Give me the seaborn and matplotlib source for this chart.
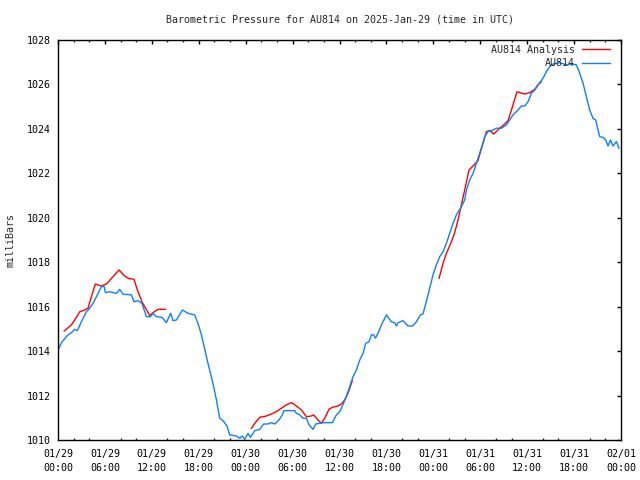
import numpy as np
import pandas as pd
import matplotlib
matplotlib.use("Agg")
import matplotlib.pyplot as plt
import matplotlib.dates as mdates
import seaborn as sns

# hours after 2025-01-29 00:00 UTC, pressure in mb
obs_hours = [0.0, 0.51, 1.28, 1.71, 2.14, 2.48, 2.99, 3.63, 4.05, 4.60, 5.12, 5.55, 5.88,
             6.06, 6.61, 7.47, 7.89, 8.31, 9.39, 9.72, 10.23, 10.74, 11.31, 11.82, 12.15,
             12.58, 13.30, 13.86, 14.41, 14.71, 15.14, 15.91, 16.63, 17.48, 17.90, 18.34,
             18.76, 19.18, 19.82, 20.26, 20.68, 21.10, 21.61, 21.96, 22.82, 23.24, 23.58,
             23.88, 24.30, 24.61, 25.16, 25.80, 26.31, 26.86, 27.29, 27.72, 28.26, 28.70,
             28.87, 30.27, 30.49, 30.91, 31.33, 31.77, 32.10, 32.61, 32.96, 33.89, 35.09,
             35.60, 36.03, 36.45, 36.88, 37.31, 37.73, 38.16, 38.59, 39.01, 39.35, 39.77,
             40.08, 40.37, 40.59, 40.92, 41.36, 42.00, 42.64, 43.06, 43.28, 43.48, 44.12,
             44.76, 45.33, 45.84, 46.35, 46.68, 47.12, 47.54, 47.96, 48.39, 48.82, 49.24,
             49.67, 50.10, 50.52, 50.95, 51.59, 52.01, 52.23, 52.65, 53.08, 53.51, 53.93,
             54.35, 54.57, 54.99, 55.63, 56.07, 56.71, 57.35, 57.77, 58.19, 58.83, 59.27,
             59.69, 60.11, 60.54, 60.97, 61.39, 62.03, 62.46, 62.88, 63.31, 64.16, 65.02,
             65.66, 66.30, 66.72, 67.15, 67.58, 68.00, 68.42, 68.77, 69.06, 69.28, 69.70,
             70.05, 70.34, 70.65, 70.98, 71.42, 71.75]
obs_mb = [1014.05, 1014.42, 1014.73, 1014.83, 1014.98, 1014.92, 1015.32, 1015.77, 1015.93,
          1016.22, 1016.60, 1016.90, 1016.93, 1016.63, 1016.67, 1016.60, 1016.78, 1016.56,
          1016.53, 1016.22, 1016.27, 1016.15, 1015.55, 1015.55, 1015.70, 1015.55, 1015.52,
          1015.28, 1015.70, 1015.37, 1015.40, 1015.85, 1015.70, 1015.63, 1015.25, 1014.73,
          1014.08, 1013.45, 1012.55, 1011.80, 1010.98, 1010.87, 1010.63, 1010.23, 1010.18,
          1010.08, 1010.18, 1010.03, 1010.30, 1010.12, 1010.42, 1010.48, 1010.72, 1010.72,
          1010.78, 1010.72, 1010.90, 1011.13, 1011.32, 1011.32, 1011.20, 1011.13, 1010.98,
          1010.98, 1010.68, 1010.48, 1010.72, 1010.78, 1010.78, 1011.13, 1011.28, 1011.60,
          1011.95, 1012.40, 1012.85, 1013.15, 1013.60, 1013.90, 1014.35, 1014.42, 1014.73,
          1014.73, 1014.58, 1014.80, 1015.18, 1015.63, 1015.32, 1015.28, 1015.13, 1015.28,
          1015.37, 1015.13, 1015.13, 1015.32, 1015.63, 1015.67, 1016.25, 1016.83, 1017.43,
          1017.88, 1018.25, 1018.47, 1018.85, 1019.30, 1019.75, 1020.13, 1020.50, 1020.80,
          1021.25, 1021.70, 1022.00, 1022.45, 1022.90, 1023.35, 1023.65, 1023.88, 1023.95,
          1024.03, 1024.03, 1024.18, 1024.40, 1024.63, 1024.85, 1025.03, 1025.03, 1025.22,
          1025.60, 1025.75, 1025.98, 1026.28, 1026.58, 1026.80, 1026.92, 1026.98, 1026.88,
          1026.92, 1026.88, 1026.50, 1026.05, 1025.45, 1024.85, 1024.47, 1024.40, 1023.95,
          1023.65, 1023.62, 1023.50, 1023.23, 1023.50, 1023.23, 1023.43, 1023.12]

# analysis series comes in three separate pieces
ana_hours = [
    [0.77, 1.28, 1.71, 2.14, 2.78, 3.41, 3.84, 4.27, 4.78, 5.55, 6.19, 6.83, 7.80, 8.53,
     9.04, 9.72, 10.15, 10.74, 11.73, 12.15, 12.79, 13.77],
    [24.73, 25.16, 25.80, 26.65, 27.29, 27.93, 28.57, 29.21, 29.85, 30.49, 31.13, 31.77,
     32.41, 32.70, 33.25, 33.69, 34.11, 34.66, 35.09, 35.81, 36.24, 36.66, 37.08, 37.65],
    [48.73, 49.24, 49.67, 50.31, 50.73, 51.16, 51.59, 52.01, 52.56, 53.08, 53.71, 54.15,
     54.79, 55.21, 55.72, 56.49, 57.13, 57.55, 57.99, 58.70, 59.69, 60.33, 60.97, 61.39,
     61.82],
]
ana_mb = [
    [1014.90, 1015.05, 1015.18, 1015.40, 1015.77, 1015.85, 1015.93, 1016.45, 1017.02,
     1016.93, 1017.02, 1017.27, 1017.65, 1017.38, 1017.27, 1017.23, 1016.75, 1016.22,
     1015.60, 1015.73, 1015.88, 1015.88],
    [1010.52, 1010.75, 1011.02, 1011.08, 1011.17, 1011.28, 1011.43, 1011.58, 1011.68,
     1011.53, 1011.35, 1011.05, 1011.08, 1011.13, 1010.90, 1010.75, 1010.98, 1011.38,
     1011.47, 1011.53, 1011.62, 1011.80, 1012.10, 1012.67],
    [1017.27, 1017.95, 1018.40, 1018.92, 1019.33, 1019.90, 1020.58, 1021.25, 1022.15,
     1022.33, 1022.57, 1023.13, 1023.88, 1023.92, 1023.77, 1024.03, 1024.22, 1024.37,
     1024.85, 1025.67, 1025.57, 1025.63, 1025.78, 1025.98, 1026.13],
]

series_names = ["AU814 Analysis", "AU814"]
series_colors = ["#ff0000", "#0a80ff"]
start = pd.Timestamp("2025-01-29 00:00")
end = pd.Timestamp("2025-02-01 00:00")

frames = []
for i, (h, v) in enumerate(zip(ana_hours, ana_mb)):
    frames.append(pd.DataFrame({"hours": h, "mb": v, "series": series_names[0], "seg": i}))
frames.append(pd.DataFrame({"hours": obs_hours, "mb": obs_mb, "series": series_names[1], "seg": 10}))
df = pd.concat(frames, ignore_index=True)
df["time"] = start + pd.to_timedelta(df["hours"], unit="h")

sns.set_style("white")
plt.rcParams["font.family"] = ["DejaVu Sans Mono"]

fig = plt.figure(figsize=(6.4, 4.8), dpi=100)
ax = fig.add_axes([58 / 640, 40 / 480, 563 / 640, 400 / 480])

sns.lineplot(data=df, x="time", y="mb", hue="series", units="seg", estimator=None,
             hue_order=series_names, palette=series_colors, linewidth=1.0, ax=ax,
             sort=False)

ax.set_xlim(start, end)
ax.set_ylim(1010, 1028)
ax.set_yticks(np.arange(1010, 1029, 2))
ax.xaxis.set_major_locator(mdates.HourLocator(byhour=range(0, 24, 6)))
ax.xaxis.set_minor_locator(mdates.HourLocator(byhour=range(0, 24, 2)))
ax.xaxis.set_major_formatter(mdates.DateFormatter("%m/%d\n%H:%M"))

ax.tick_params(axis="both", which="major", direction="in", length=3, width=1,
               top=True, right=True, labelsize=7.2, pad=5, colors="black")
ax.tick_params(axis="x", which="major", pad=6.5)
ax.tick_params(axis="x", which="minor", direction="in", length=1.6, width=1,
               top=True, bottom=True)
for lbl in ax.get_xticklabels():
    lbl.set_linespacing(1.45)
for sp in ax.spines.values():
    sp.set_color("black")
    sp.set_linewidth(1.0)

ax.set_xlabel("")
ax.set_ylabel("milliBars", fontsize=7.2)
ax.yaxis.set_label_coords(-0.076, 0.5)
ax.set_title("Barometric Pressure for AU814 on 2025-Jan-29 (time in UTC)",
             fontsize=7.2, pad=12.8)

handles, labels = ax.get_legend_handles_labels()
ax.legend(handles, labels, loc="upper right", bbox_to_anchor=(0.9805, 0.9875),
          frameon=False, markerfirst=False, fontsize=7.2, handlelength=2.8,
          handletextpad=0.7, labelspacing=0.35, borderaxespad=0, borderpad=0)

fig.savefig("out.png", dpi=100)
